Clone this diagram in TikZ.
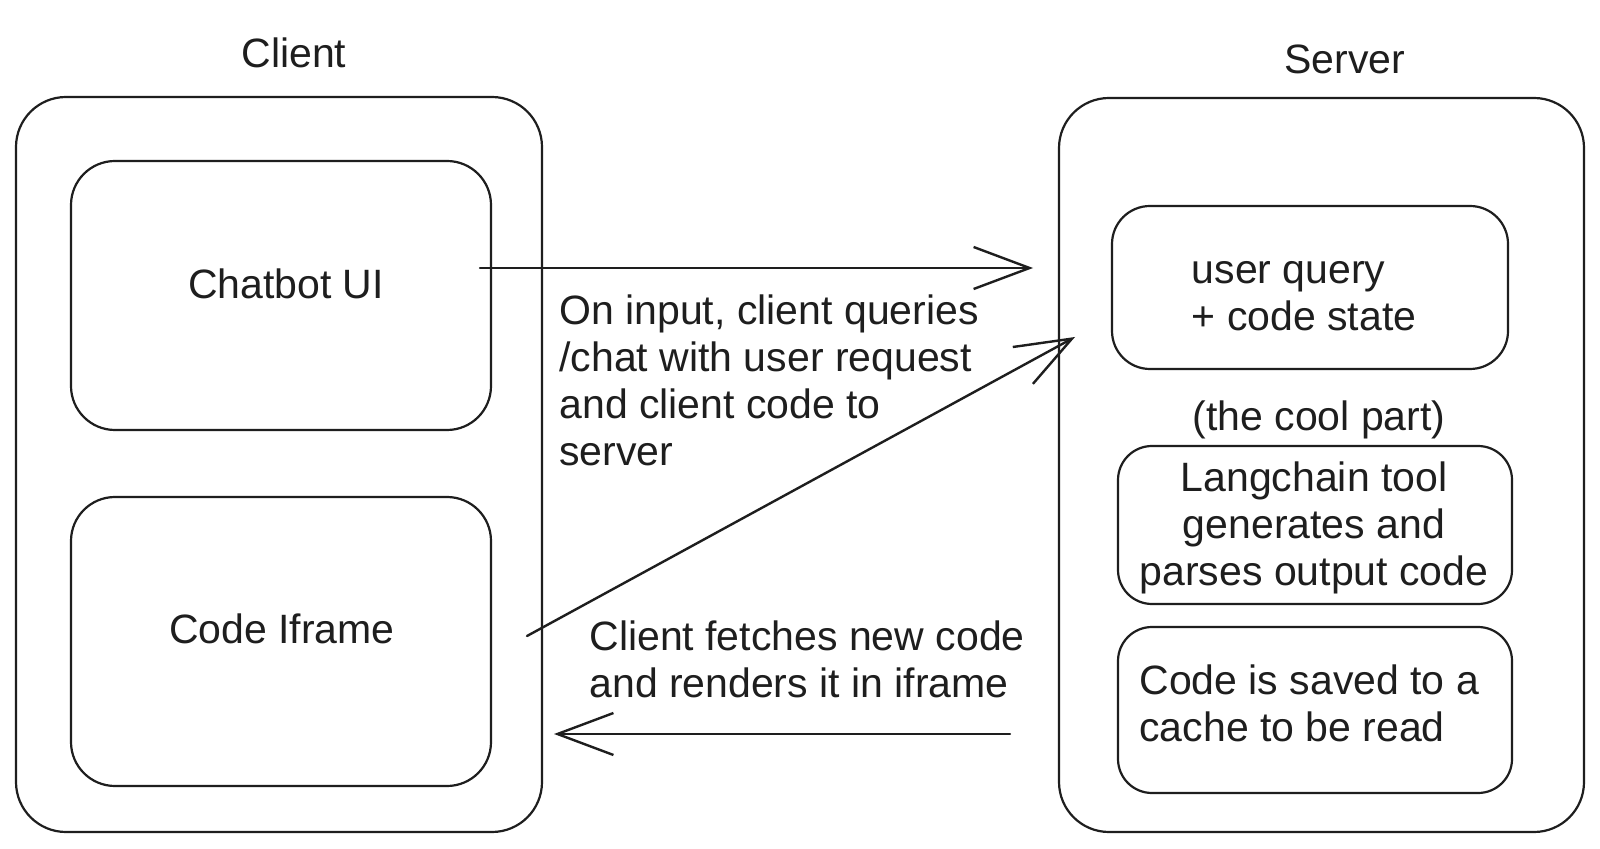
\documentclass[tikz,border=0pt]{standalone}
\usepackage{fontspec}
\setmainfont{Liberation Sans}
\usetikzlibrary{arrows.meta}
\definecolor{ink}{RGB}{30,30,30}
\begin{document}
\begin{tikzpicture}[x=0.5pt,y=-0.5pt,
  box/.style={draw=ink, line width=1.1pt, rounded corners=#1, inner sep=0pt},
  box/.default=20pt,
  txt/.style={font=\fontsize{20.5pt}{23.5pt}\selectfont, text=ink, inner sep=0pt},
  conn/.style={draw=ink, line width=1.2pt, line cap=round,
    -{Straight Barb[length=28pt,width=21pt,line width=1.2pt]}}
]
\fill[white] (0,0) rectangle (1600,849);
\useasboundingbox (0,0) rectangle (1600,849);

% containers
\node[box=25pt, minimum width=263pt, minimum height=367.5pt] (client) at (279,464.5) {};
\node[box=22pt, minimum width=210pt, minimum height=134.5pt] (chatbot) at (281,295.5) {};
\node[box=22pt, minimum width=210pt, minimum height=144.5pt] (iframe) at (281,641.5) {};
\node[box=25pt, minimum width=262.5pt, minimum height=367pt] (server) at (1321.5,465) {};
\node[box=19pt, minimum width=198pt, minimum height=81.5pt] (query) at (1310,287.5) {};
\node[box=17pt, minimum width=197pt, minimum height=79pt] (lang) at (1315,525) {};
\node[box=17pt, minimum width=197pt, minimum height=83pt] (cache) at (1315,710) {};

% titles
\node[txt] (clientT) at (294,53) {Client};
\node[txt] (serverT) at (1345,59) {Server};

% box texts
\node[txt] (chatbotT) at (286,284) {Chatbot UI};
\node[txt] (iframeT) at (282,629) {Code Iframe};
\node[txt, align=left] (queryT) at (1304,296) {user query\\+ code state};
\node[txt] (cool) at (1319,420) {(the cool part)};
\node[txt, align=center] (langT) at (1314,528) {Langchain tool\\generates and\\parses output code};
\node[txt, align=left, anchor=west] (cacheT) at (1139,703) {Code is saved to a\\cache to be read};

% connectors
\coordinate (a1s) at (480,268);
\coordinate (a1e) at (1033,268);
\coordinate (a2s) at (527,636);
\coordinate (a2e) at (1075,337);
\coordinate (a3s) at (1010,734);
\coordinate (a3e) at (554,734);
\draw[conn] (a1s) -- (a1e);
\draw[conn] (a2s) -- (a2e);
\draw[conn] (a3s) -- (a3e);

% connector labels
\node[txt, align=left, anchor=west] (lab1) at (559,380) {On input, client queries\\/chat with user request\\and client code to\\server};
\node[txt, align=left, anchor=west] (lab2) at (589,659) {Client fetches new code\\and renders it in iframe};
\end{tikzpicture}
\end{document}
